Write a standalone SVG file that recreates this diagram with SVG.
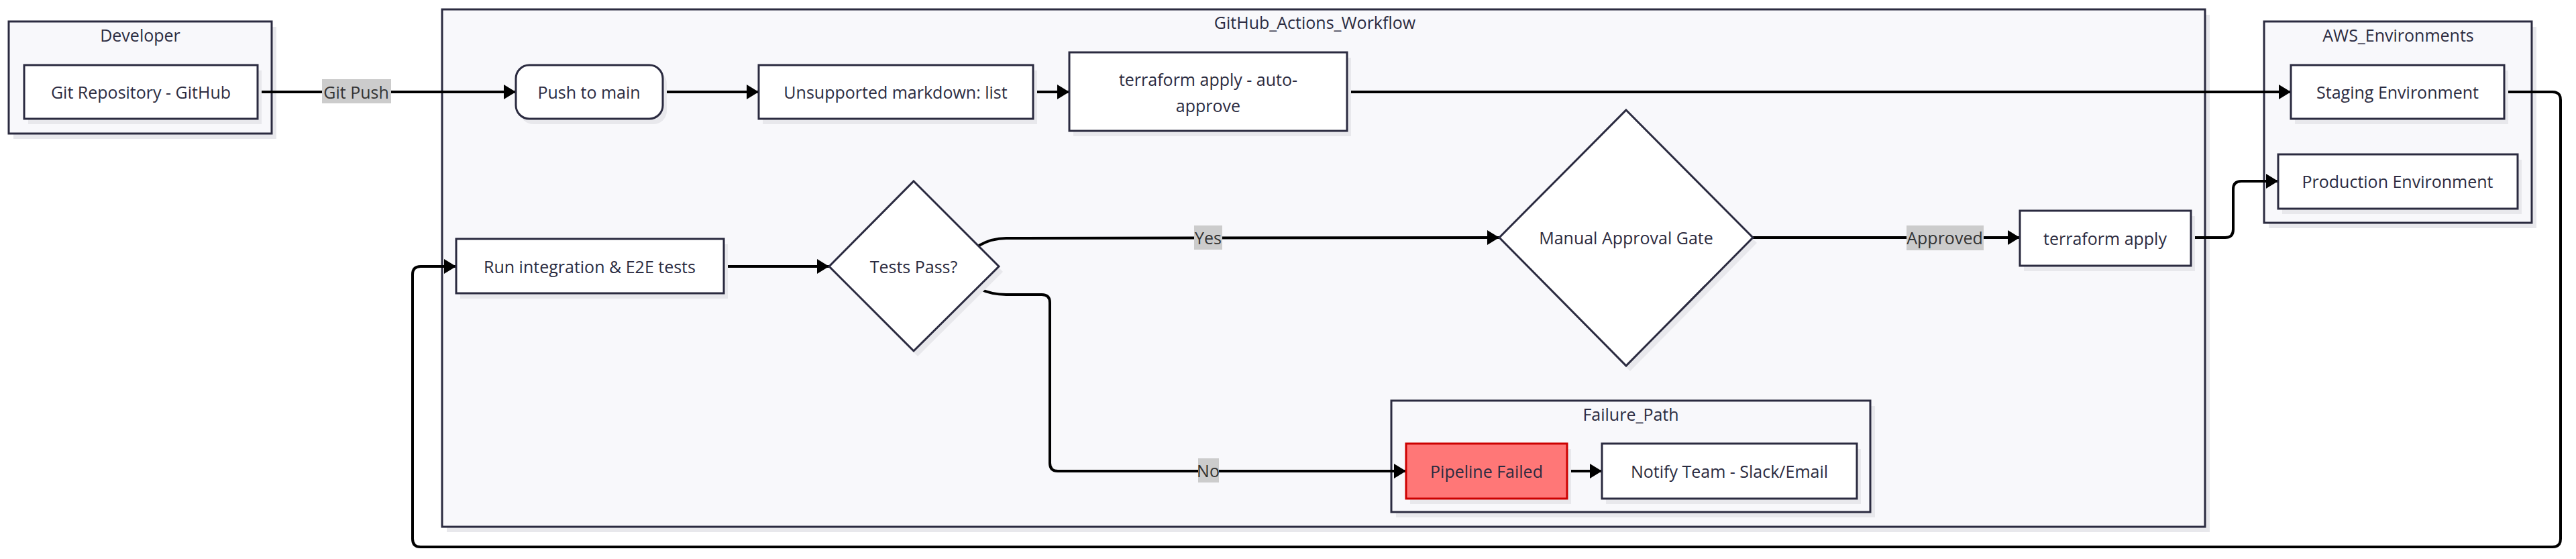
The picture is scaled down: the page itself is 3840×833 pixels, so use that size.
<svg xmlns="http://www.w3.org/2000/svg" width="3840" height="833" viewBox="0 0 3840 833">
<defs>
<marker id="arr" markerUnits="userSpaceOnUse" markerWidth="20" markerHeight="24" refX="19" refY="12" orient="auto">
<path d="M1,1 L19,12 L1,23 z" fill="#000"/>
</marker>
</defs>
<style>
text{font-family:"Open Sans","Liberation Sans",sans-serif;font-size:25px;fill:#2b2b40;text-anchor:middle;dominant-baseline:central}
.cl{fill:#f8f8fb;stroke:#2b2b40;stroke-width:3}
.sh{fill:#e8e8ec}
.nd{fill:#fff;stroke:#2b2b40;stroke-width:3}
.fail{fill:#ff7777;stroke:#cc0000;stroke-width:3}
.e{fill:none;stroke:#000;stroke-width:4}
.ea{fill:none;stroke:#000;stroke-width:4;marker-end:url(#arr)}
.lb{fill:#cccccc}
.lt{fill:#333}
</style>
<rect width="3840" height="833" fill="#fff"/>

<g id="cluster-Developer">
<rect class="sh" x="20" y="40" width="392" height="167"/>
<rect class="cl" x="13" y="32" width="392" height="167"/>
<text x="209" y="52">Developer</text>
</g>
<g id="cluster-GitHub_Actions_Workflow">
<rect class="sh" x="666" y="22" width="2628" height="771"/>
<rect class="cl" x="659" y="14" width="2628" height="771"/>
<text x="1960" y="33">GitHub_Actions_Workflow</text>
</g>
<g id="cluster-AWS_Environments">
<rect class="sh" x="3382" y="40" width="399" height="300"/>
<rect class="cl" x="3375" y="32" width="399" height="300"/>
<text x="3575" y="52">AWS_Environments</text>
</g>
<g id="cluster-Failure_Path">
<rect class="sh" x="2081" y="605" width="714" height="166"/>
<rect class="cl" x="2074" y="597" width="714" height="166"/>
<text x="2431" y="617">Failure_Path</text>
</g>

<g id="connectors">
<path class="ea" d="M384,137 L769,137"/>
<path class="ea" d="M988,137 L1131,137"/>
<path class="ea" d="M1540,137 L1594,137"/>
<path class="ea" d="M2008,137 L3415,137"/>
<path class="ea" d="M3733,137 L3805,137 Q3817,137 3817,149 L3817,803 Q3817,815 3805,815 L627,815 Q615,815 615,803 L615,409 Q615,397 627,397 L680,397"/>
<path class="ea" d="M1079,397 L1236,397"/>
<path class="ea" d="M1459,366 Q1478,355 1500,355 L2235,354"/>
<path class="ea" d="M1459,430 Q1478,439 1500,439 L1553,439 Q1565,439 1565,451 L1565,690 Q1565,702 1577,702 L2096,702"/>
<path class="ea" d="M2613,354 L3011,354"/>
<path class="ea" d="M3266,354 L3317,354 Q3329,354 3329,342 L3329,282 Q3329,270 3341,270 L3396,270"/>
<path class="ea" d="M2336,702 L2388,702"/>
<rect class="lb" x="480" y="118" width="103" height="36"/>
<text class="lt" x="531" y="137">Git Push</text>
<rect class="lb" x="1780" y="336" width="42" height="36"/>
<text class="lt" x="1801" y="354">Yes</text>
<rect class="lb" x="1786" y="683" width="31" height="36"/>
<text class="lt" x="1801" y="701">No</text>
<rect class="lb" x="2842" y="336" width="115" height="37"/>
<text class="lt" x="2899" y="354">Approved</text>
</g>

<g id="node-GitRepo">
<rect class="sh" x="42" y="105" width="348" height="80"/>
<rect class="nd" x="36" y="97" width="348" height="80"/>
<text x="210" y="137">Git Repository - GitHub</text>
</g>
<g id="node-PushMain">
<rect class="sh" x="775" y="105" width="219" height="80" rx="20"/>
<rect class="nd" x="769" y="97" width="219" height="80" rx="20"/>
<text x="878" y="137">Push to main</text>
</g>
<g id="node-Unsupported">
<rect class="sh" x="1137" y="105" width="409" height="80"/>
<rect class="nd" x="1131" y="97" width="409" height="80"/>
<text x="1335" y="137">Unsupported markdown: list</text>
</g>
<g id="node-TfAuto">
<rect class="sh" x="1600" y="86" width="414" height="117"/>
<rect class="nd" x="1594" y="78" width="414" height="117"/>
<text x="1801" y="118">terraform apply - auto-</text>
<text x="1801" y="157">approve</text>
</g>
<g id="node-Staging">
<rect class="sh" x="3421" y="105" width="318" height="80"/>
<rect class="nd" x="3415" y="97" width="318" height="80"/>
<text x="3574" y="137">Staging Environment</text>
</g>
<g id="node-Production">
<rect class="sh" x="3402" y="238" width="357" height="81"/>
<rect class="nd" x="3396" y="230" width="357" height="81"/>
<text x="3574" y="270">Production Environment</text>
</g>
<g id="node-RunTests">
<rect class="sh" x="686" y="364" width="399" height="81"/>
<rect class="nd" x="680" y="356" width="399" height="81"/>
<text x="879" y="397">Run integration &amp; E2E tests</text>
</g>
<g id="node-TestsPass">
<polygon class="sh" points="1368,278 1495,405 1368,531 1242,405"/>
<polygon class="nd" points="1362,270 1489,397 1362,523 1236,397"/>
<text x="1362" y="397">Tests Pass?</text>
</g>
<g id="node-ManualGate">
<polygon class="sh" points="2430,172 2619,362 2430,553 2241,362"/>
<polygon class="nd" points="2424,164 2613,354 2424,545 2235,354"/>
<text x="2424" y="354">Manual Approval Gate</text>
</g>
<g id="node-TfApply">
<rect class="sh" x="3017" y="322" width="255" height="82"/>
<rect class="nd" x="3011" y="314" width="255" height="82"/>
<text x="3138" y="355">terraform apply</text>
</g>
<g id="node-PipelineFailed">
<rect class="sh" x="2102" y="669" width="240" height="82"/>
<rect class="fail" x="2096" y="661" width="240" height="82"/>
<text x="2216" y="702">Pipeline Failed</text>
</g>
<g id="node-Notify">
<rect class="sh" x="2394" y="669" width="380" height="82"/>
<rect class="nd" x="2388" y="661" width="380" height="82"/>
<text x="2578" y="702">Notify Team - Slack/Email</text>
</g>
</svg>
